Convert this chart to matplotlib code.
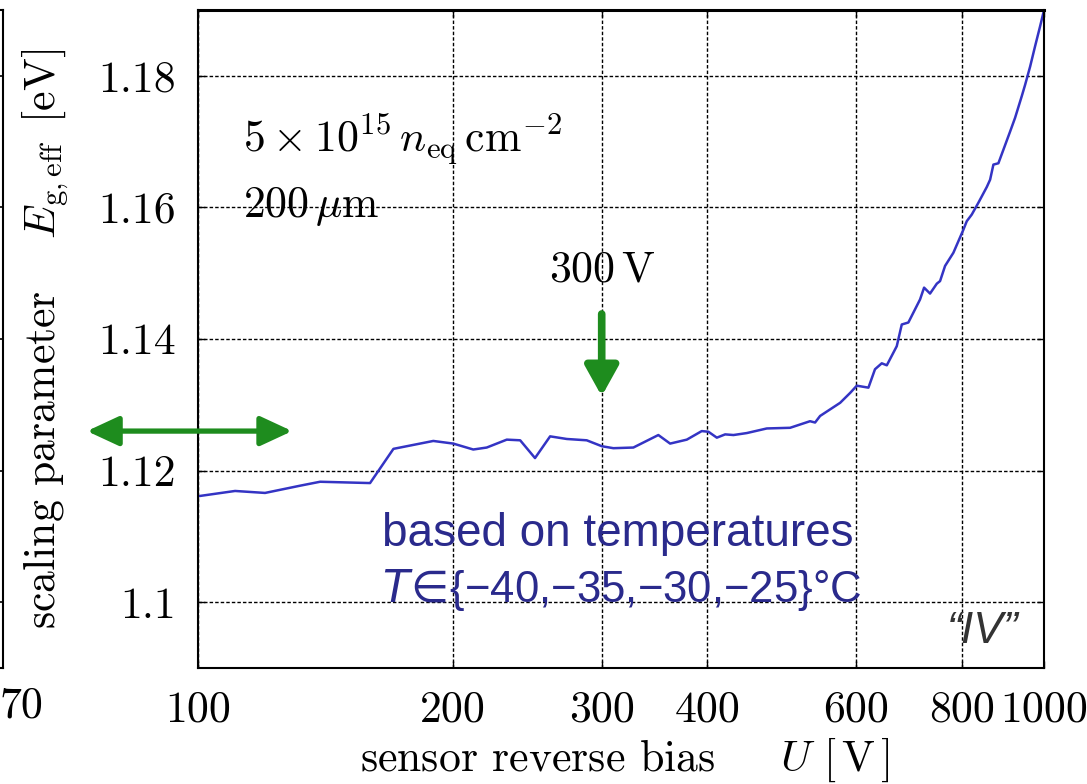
import numpy as np
import matplotlib
matplotlib.use("Agg")
import matplotlib.pyplot as plt
from matplotlib.patches import ArrowStyle

# --- data ---
U = [100, 110.6, 120.0, 132.0, 139.4, 159.7, 170.2, 189.7, 200.3, 211.5,
     219.4, 231.7, 240.3, 250.2, 260.7, 272.8, 288.0, 300.1, 309.7, 327.0,
     350.0, 361.4, 378.2, 393.9, 401.1, 410.4, 419.8, 429.4, 445.3, 470.2,
     501.0, 528.9, 536.2, 543.6, 574.1, 589.9, 600.7, 620.0, 631.2, 642.9,
     651.8, 669.7, 678.9, 691.2, 713.5, 721.4, 733.2, 746.8, 753.5, 763.8,
     781.3, 802.8, 810.3, 821.3, 836.3, 855.7, 863.4, 871.2, 883.1, 911.6,
     924.1, 941.1, 949.6, 962.8, 975.9, 989.2, 1000]
Eg = [1.1161, 1.1169, 1.1166, 1.1177, 1.1183, 1.1181, 1.1233, 1.1245, 1.1241, 1.1232,
      1.1235, 1.1247, 1.1246, 1.1219, 1.1252, 1.1248, 1.1246, 1.1237, 1.1234, 1.1235,
      1.1254, 1.1241, 1.1247, 1.1260, 1.1259, 1.1250, 1.1255, 1.1254, 1.1257, 1.1264,
      1.1265, 1.1275, 1.1273, 1.1283, 1.1303, 1.1318, 1.1329, 1.1326, 1.1354, 1.1363,
      1.1360, 1.1389, 1.1422, 1.1425, 1.1460, 1.1478, 1.1469, 1.1484, 1.1488, 1.1511,
      1.1531, 1.1566, 1.1579, 1.1589, 1.1607, 1.1631, 1.1642, 1.1665, 1.1667, 1.1715,
      1.1736, 1.1769, 1.1786, 1.1814, 1.1845, 1.1875, 1.1900]

xticks = [100, 200, 300, 400, 600, 800, 1000]
xticklabels = ["100", "200", "300", "400", "600", "800", "1000"]
yticks = [1.10, 1.12, 1.14, 1.16, 1.18]
yticklabels = ["1.1", "1.12", "1.14", "1.16", "1.18"]

operating_voltage = 300
range_arrow = (73.9, 129.2, 1.1260)

plt.rcParams["font.family"] = "serif"
plt.rcParams["font.serif"] = ["cmr10"]
plt.rcParams["mathtext.fontset"] = "cm"
plt.rcParams["axes.unicode_minus"] = False

fs = 31.5
green = "#1e8c1e"
blue_line = "#3434c4"
blue_text = "#2a2a8c"
sans = ["Liberation Sans", "DejaVu Sans"]

fig = plt.figure(figsize=(10.87, 7.84), dpi=100)

# fragment of the neighbouring panel at the far left
ax0 = fig.add_axes([-0.3, 0.148, 0.30276, 0.8393])
ax0.set_ylim(1.09, 1.19)
ax0.set_yticks(yticks)
ax0.set_xticks([])
ax0.tick_params(axis="y", direction="in", left=False, right=True,
                labelleft=False, length=7, width=1.2)
for s in ax0.spines.values():
    s.set_linewidth(1.5)
fig.text(0.0, 1 - 706 / 784, "70", fontsize=fs, ha="left", va="center")

ax = fig.add_axes([0.1822, 0.148, 0.7783, 0.8393])
ax.plot(U, Eg, color=blue_line, lw=1.8)
ax.set_xscale("log")
ax.set_xlim(100, 1000)
ax.set_ylim(1.09, 1.19)
ax.set_xticks(xticks)
ax.set_xticklabels(xticklabels)
ax.xaxis.set_minor_locator(matplotlib.ticker.NullLocator())
ax.set_yticks(yticks)
ax.set_yticklabels(yticklabels)
ax.tick_params(axis="both", direction="in", top=True, right=True,
               length=5, width=1.0, labelsize=fs, pad=16)
ax.grid(True, color="black", lw=1.0, linestyle=(0, (2.5, 1.5)))
for s in ax.spines.values():
    s.set_linewidth(1.5)
ax.spines["top"].set_linewidth(2.2)

ax.set_xlabel(r"sensor reverse bias $\quad\ U\ [\,\mathrm{V}\,]$", fontsize=fs, va="center")
ax.xaxis.set_label_coords(0.505, -0.139)
ax.set_ylabel(r"scaling parameter $\quad E_{\mathrm{g,eff}}\ \,[\mathrm{eV}]$", fontsize=fs, va="center")
ax.yaxis.set_label_coords(-0.181, 0.5)

ax.text(113, 1.1685, r"$5\times10^{15}\,n_{\mathrm{eq}}\,\mathrm{cm}^{-2}$", fontsize=fs, va="baseline")
ax.text(113, 1.1586, r"$200\,\mu\mathrm{m}$", fontsize=fs, va="baseline")
ax.text(operating_voltage, 1.1487, r"$300\,\mathrm{V}$", fontsize=fs, ha="center", va="baseline")

ax.text(165, 1.1085, "based on temperatures", fontsize=33, color=blue_text,
        family=sans, va="baseline")
ax.text(165, 1.1000, r"$T\!\in\!${−40,−35,−30,−25}°C", fontsize=31.5, color=blue_text,
        family=sans, math_fontfamily="dejavusans", va="baseline")
ax.text(845, 1.0956, "“IV”", fontsize=32, color="#333333", style="italic",
        family=sans, ha="center", va="center")

# green arrows
ax.annotate("", xy=(operating_voltage, 1.1313), xytext=(operating_voltage, 1.1438),
            arrowprops=dict(arrowstyle=ArrowStyle("-|>", head_length=0.9, head_width=0.5),
                            color=green, lw=5.5, shrinkA=0, shrinkB=0, mutation_scale=20))
ax.annotate("", xy=(range_arrow[0], range_arrow[2]), xytext=(range_arrow[1], range_arrow[2]),
            annotation_clip=False,
            arrowprops=dict(arrowstyle=ArrowStyle("<|-|>", head_length=0.97, head_width=0.45),
                            color=green, lw=3.8, shrinkA=0, shrinkB=0, mutation_scale=20))

fig.savefig("out.png", dpi=100)
